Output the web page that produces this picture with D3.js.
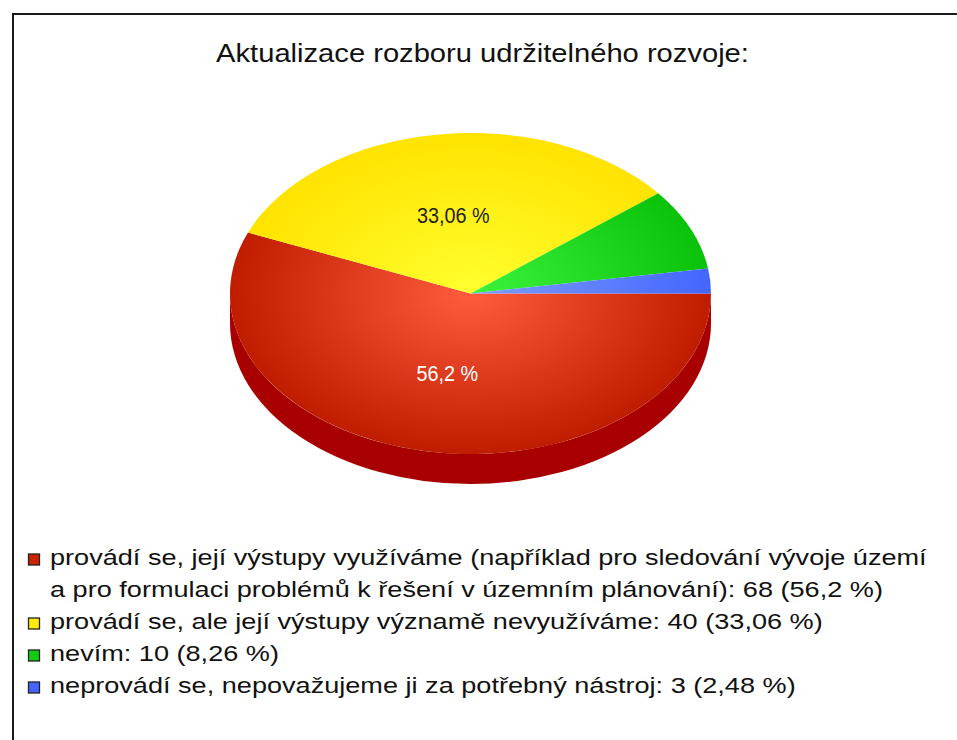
<!DOCTYPE html>
<html>
<head>
<meta charset="utf-8">
<script src="https://cdn.jsdelivr.net/npm/d3@7"></script>
<style>
  body { margin: 0; background: #fff; }
  text { font-family: "Liberation Sans", Arial, sans-serif; }
</style>
</head>
<body>
<div id="chart"></div>
<script>
const title = "Aktualizace rozboru udržitelného rozvoje:";
const categories = [
  "provádí se, její výstupy využíváme (například pro sledování vývoje území a pro formulaci problémů k řešení v územním plánování)",
  "provádí se, ale její výstupy významě nevyužíváme",
  "nevím",
  "neprovádí se, nepovažujeme ji za potřebný nástroj"
];
const counts = [68, 40, 10, 3];

const width = 957;
const height = 740;

// pie geometry (3d look: flattened ellipse + side band)
const cx = 470.5, cy = 293.5;
const rx = 240.5, ry = 160.5;
const depth = 30;

const topColours = [
  ["#ff5c3e", "#c01c00"], // red
  ["#ffff2e", "#ffe300"], // yellow
  ["#3cf43c", "#0bc20b"], // green
  ["#7c9dff", "#4466ff"]  // blue
];
const sideColours = ["#a80000", "#c8b000", "#089008", "#3048c0"];
const keyColours = ["#cc2200", "#ffee00", "#11cc11", "#4466ff"];
const labelColours = ["#ffffff", "#222222", "#222222", "#ffffff"];

const total = d3.sum(counts);
const fmtPct = v => d3.format(".2~f")(v).replace(".", ",");

const svg = d3.select("#chart").append("svg")
  .attr("width", width)
  .attr("height", height);

// frame
svg.append("rect")
  .attr("x", 13).attr("y", 14)
  .attr("width", 1000).attr("height", 800)
  .attr("fill", "#fff")
  .attr("stroke", "#1a1a1a")
  .attr("stroke-width", 2);

// title
svg.append("g")
  .attr("transform", "translate(482.5,62) scale(1.1,1)")
  .append("text")
  .attr("text-anchor", "middle")
  .attr("font-size", 26.5)
  .attr("fill", "#111")
  .text(title);

const pie = d3.pie()
  .sort(null)
  .startAngle(Math.PI / 2)
  .endAngle(Math.PI / 2 + 2 * Math.PI);

const slices = pie(counts);
slices.forEach((d, i) => (d.i = i));

// gradients
const defs = svg.append("defs");
topColours.forEach((c, i) => {
  const g = defs.append("radialGradient")
    .attr("id", "grad" + i)
    .attr("gradientUnits", "userSpaceOnUse")
    .attr("cx", 0).attr("cy", 0).attr("r", rx);
  g.append("stop").attr("offset", "0%").attr("stop-color", c[0]);
  g.append("stop").attr("offset", "100%").attr("stop-color", c[1]);
});

// side band (front half only: angles PI/2 .. 3PI/2)
const pt = a => [cx + rx * Math.sin(a), cy - ry * Math.cos(a)];
const sides = slices.map(d => {
  const s = Math.max(d.startAngle, Math.PI / 2);
  const e = Math.min(d.endAngle, 3 * Math.PI / 2);
  return { i: d.i, s, e };
}).filter(d => d.e > d.s);

svg.append("g").attr("class", "sides")
  .selectAll("path")
  .data(sides)
  .join("path")
  .attr("fill", d => sideColours[d.i])
  .attr("d", d => {
    const p0 = pt(d.s), p1 = pt(d.e);
    const large = d.e - d.s > Math.PI ? 1 : 0;
    return `M${p0[0]},${p0[1]}` +
      `A${rx},${ry} 0 ${large} 1 ${p1[0]},${p1[1]}` +
      `L${p1[0]},${p1[1] + depth}` +
      `A${rx},${ry} 0 ${large} 0 ${p0[0]},${p0[1] + depth}Z`;
  });

// top face
const arc = d3.arc().innerRadius(0).outerRadius(rx);
svg.append("g")
  .attr("class", "top")
  .attr("transform", `translate(${cx},${cy}) scale(1,${ry / rx})`)
  .selectAll("path")
  .data(slices)
  .join("path")
  .attr("fill", d => `url(#grad${d.i})`)
  .attr("d", arc);

// slice labels
const labelArc = d3.arc().innerRadius(rx * 0.5).outerRadius(rx * 0.5);
svg.append("g").attr("class", "labels")
  .selectAll("g")
  .data(slices.filter(d => d.data / total > 0.1))
  .join("g")
  .attr("transform", d => {
    const c = labelArc.centroid(d);
    return `translate(${cx + c[0]},${cy + c[1] * ry / rx + 9}) scale(0.9,1)`;
  })
  .append("text")
  .attr("text-anchor", "middle")
  .attr("font-size", 22)
  .attr("fill", d => labelColours[d.i])
  .text(d => fmtPct(d.data / total * 100) + " %");

// legend
const legendX = 28, legendTop = 553.5, lineH = 32, stretch = 1.21, legendFont = 22.4;
const maxW = (940 - 50) / stretch;

const measure = svg.append("text").attr("font-size", legendFont).attr("visibility", "hidden");
function wrap(str) {
  const words = str.split(" ");
  const lines = [];
  let cur = "";
  words.forEach(w => {
    const t = cur ? cur + " " + w : w;
    measure.text(t);
    if (cur && measure.node().getComputedTextLength() > maxW) {
      lines.push(cur);
      cur = w;
    } else cur = t;
  });
  lines.push(cur);
  return lines;
}

const legend = svg.append("g").attr("class", "legend");
let row = 0;
categories.forEach((cat, i) => {
  const label = `${cat}: ${counts[i]} (${fmtPct(counts[i] / total * 100)} %)`;
  const lines = wrap(label);
  const top = legendTop + row * lineH;
  legend.append("rect")
    .attr("x", legendX + 0.5).attr("y", top + 0.5)
    .attr("width", 11).attr("height", 11)
    .attr("fill", keyColours[i])
    .attr("stroke", "#222")
    .attr("stroke-width", 1.3);
  lines.forEach((ln, j) => {
    legend.append("g")
      .attr("transform", `translate(50,${top + 11 + j * lineH}) scale(${stretch},1)`)
      .append("text")
      .attr("font-size", legendFont)
      .attr("fill", "#111")
      .text(ln);
  });
  row += lines.length;
});
measure.remove();
</script>
</body>
</html>
